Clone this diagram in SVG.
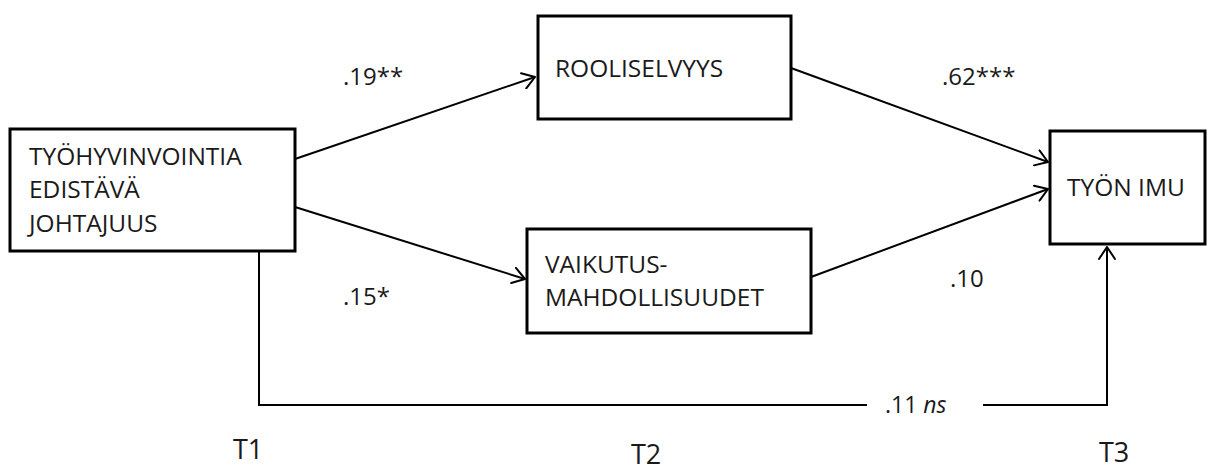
<svg xmlns="http://www.w3.org/2000/svg" width="1208" height="470" viewBox="0 0 1208 470">
  <style>
    .box { fill: #ffffff; stroke: #000000; stroke-width: 3; }
    .lbl { font-family: "Open Sans", "Liberation Sans", sans-serif; font-size: 24.5px; fill: #1a1a1a; }
    .num { font-family: "Open Sans", "Liberation Sans", sans-serif; font-size: 24px; fill: #1a1a1a; }
    .t { font-family: "Open Sans", "Liberation Sans", sans-serif; font-size: 27px; fill: #1a1a1a; }
    .conn { fill: none; stroke: #000000; stroke-width: 2; }
  </style>
  <defs>
    <marker id="arr" viewBox="0 0 14 18" refX="13" refY="9" markerWidth="14" markerHeight="18" markerUnits="userSpaceOnUse" orient="auto">
      <path d="M1,1 L13,9 L1,17" fill="none" stroke="#000" stroke-width="2" stroke-linecap="round" stroke-linejoin="round"/>
    </marker>
  </defs>
  <rect width="1208" height="470" fill="#ffffff"/>

  <g id="connectors">
    <line class="conn" x1="295" y1="159" x2="535" y2="77" marker-end="url(#arr)"/>
    <line class="conn" x1="295" y1="207" x2="525" y2="279" marker-end="url(#arr)"/>
    <line class="conn" x1="791" y1="68" x2="1048" y2="162" marker-end="url(#arr)"/>
    <line class="conn" x1="811" y1="277" x2="1048" y2="189" marker-end="url(#arr)"/>
    <path class="conn" d="M259,251 V405 H867"/>
    <path class="conn" d="M983,405 H1107 V247" marker-end="url(#arr)"/>
  </g>

  <g id="node-johtajuus">
    <rect class="box" x="10" y="129" width="285" height="122"/>
    <text class="lbl" x="29" y="165">TYÖHYVINVOINTIA</text>
    <text class="lbl" x="29" y="198">EDISTÄVÄ</text>
    <text class="lbl" x="29" y="232">JOHTAJUUS</text>
  </g>

  <g id="node-rooliselvyys">
    <rect class="box" x="538" y="16" width="253" height="103"/>
    <text class="lbl" x="555" y="77">ROOLISELVYYS</text>
  </g>

  <g id="node-vaikutus">
    <rect class="box" x="527" y="229" width="284" height="104"/>
    <text class="lbl" x="545" y="273">VAIKUTUS-</text>
    <text class="lbl" x="545" y="306">MAHDOLLISUUDET</text>
  </g>

  <g id="node-tyonimu">
    <rect class="box" x="1050" y="131" width="155" height="113"/>
    <text class="lbl" x="1067" y="196">TYÖN IMU</text>
  </g>

  <g id="labels">
    <text class="num" x="343" y="85">.19**</text>
    <text class="num" x="343" y="305">.15*</text>
    <text class="num" x="942" y="85">.62***</text>
    <text class="num" x="950" y="287">.10</text>
    <text class="num" x="885" y="413" style="font-size:23px">.11 <tspan font-style="italic">ns</tspan></text>
    <text class="t" x="233" y="459">T1</text>
    <text class="t" x="631" y="464">T2</text>
    <text class="t" x="1099" y="462">T3</text>
  </g>
</svg>
